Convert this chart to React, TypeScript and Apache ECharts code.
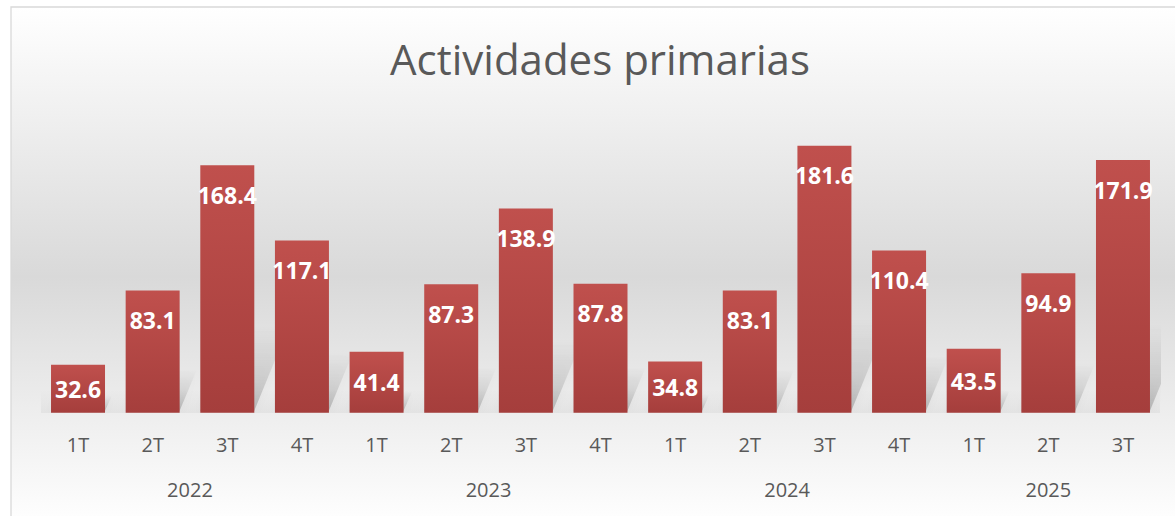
import React, { useEffect, useRef } from "react";
import * as echarts from "echarts";

const TITLE = "Actividades primarias";
const QUARTERS = ["1T", "2T", "3T", "4T", "1T", "2T", "3T", "4T", "1T", "2T", "3T", "4T", "1T", "2T", "3T"];
const VALUES = [32.6, 83.1, 168.4, 117.1, 41.4, 87.3, 138.9, 87.8, 34.8, 83.1, 181.6, 110.4, 43.5, 94.9, 171.9];
const YEARS = ["2022", "2023", "2024", "2025"];
const QUARTERS_PER_YEAR = [4, 4, 4, 3];

export default function App() {
  const ref = useRef<HTMLDivElement>(null);

  useEffect(() => {
    if (!ref.current) return;
    const chart = echarts.init(ref.current, null, { renderer: "svg" });

    // year label positions = centre of each group of quarters
    const yearCenters: number[] = [];
    let start = 0;
    QUARTERS_PER_YEAR.forEach((n) => {
      yearCenters.push(start + (n - 1) / 2);
      start += n;
    });

    const barData = VALUES.map((v) => ({
      value: v,
      label: v < 45 ? { position: "inside" as const } : undefined,
    }));

    chart.setOption({
      animation: false,
      graphic: [
        {
          type: "rect",
          z: -10,
          silent: true,
          shape: { x: 11, y: 7, width: 1300, height: 519 },
          style: {
            fill: {
              type: "linear",
              x: 0,
              y: 0,
              x2: 0,
              y2: 1,
              colorStops: [
                { offset: 0, color: "#ffffff" },
                { offset: 0.52, color: "#d9d9d9" },
                { offset: 1, color: "#ffffff" },
              ],
            },
            stroke: "#d9d9d9",
            lineWidth: 1.3,
          },
        },
        {
          type: "rect",
          z: -9,
          silent: true,
          shape: { x: 41, y: 390, width: 1119, height: 23 },
          style: {
            fill: {
              type: "linear",
              x: 0,
              y: 0,
              x2: 0,
              y2: 1,
              colorStops: [
                { offset: 0, color: "rgba(0,0,0,0)" },
                { offset: 1, color: "rgba(0,0,0,0.045)" },
              ],
            },
          },
        },
        {
          type: "text",
          x: 600,
          y: 58,
          z: 10,
          style: {
            text: TITLE,
            fill: "#595959",
            font: '42px "Open Sans"',
            textAlign: "center",
            textVerticalAlign: "middle",
          },
        },
      ],
      grid: { left: 40.7, right: 14.7, top: 118.7, bottom: 103.3, containLabel: false },
      xAxis: [
        {
          type: "category",
          data: QUARTERS,
          axisLine: { show: false },
          axisTick: { show: false },
          axisLabel: {
            color: "#595959",
            fontFamily: "Open Sans",
            fontSize: 20,
            lineHeight: 20,
            margin: 22,
            interval: 0,
          },
        },
        {
          type: "value",
          min: -0.5,
          max: QUARTERS.length - 0.5,
          position: "bottom",
          axisLine: { show: false },
          axisTick: { show: false },
          splitLine: { show: false },
          axisLabel: {
            customValues: yearCenters,
            formatter: (val: number) => {
              const i = yearCenters.findIndex((c) => Math.abs(c - val) < 1e-6);
              return i >= 0 ? YEARS[i] : "";
            },
            color: "#595959",
            fontFamily: "Open Sans",
            fontSize: 20,
            lineHeight: 20,
            margin: 67,
            showMinLabel: true,
            showMaxLabel: true,
          },
        },
      ],
      yAxis: {
        type: "value",
        min: 0,
        max: 200,
        show: false,
      },
      series: [
        {
          type: "custom",
          xAxisIndex: 0,
          z: 1,
          clip: true,
          silent: true,
          data: VALUES.map((v, i) => [i, v]),
          encode: { x: 0, y: 1 },
          renderItem: (params: any, api: any) => {
            const idx = api.value(0);
            const v = api.value(1);
            const base = api.coord([idx, 0]);
            const top = api.coord([idx, v]);
            const bw = api.size([1, 0])[0] * 0.723;
            const x0 = base[0] - bw / 2;
            const x1 = base[0] + bw / 2;
            const yb = base[1];
            const h = (yb - top[1]) * 0.35;
            const dx = h * 0.4;
            return {
              type: "polygon",
              shape: {
                points: [
                  [x0, yb - 2],
                  [x1, yb - 2],
                  [x1 + dx, yb - h],
                  [x0 + dx, yb - h],
                ],
              },
              style: {
                fill: {
                  type: "linear",
                  x: 0,
                  y: 0,
                  x2: 0,
                  y2: 1,
                  colorStops: [
                    { offset: 0, color: "rgba(0,0,0,0)" },
                    { offset: 0.55, color: "rgba(0,0,0,0.09)" },
                    { offset: 1, color: "rgba(0,0,0,0.2)" },
                  ],
                },
                shadowBlur: 8,
                shadowColor: "rgba(0,0,0,0.18)",
              },
            };
          },
        },
        {
          type: "bar",
          xAxisIndex: 0,
          z: 3,
          data: barData,
          barWidth: 54,
          itemStyle: {
            color: {
              type: "linear",
              x: 0,
              y: 0,
              x2: 0,
              y2: 1,
              colorStops: [
                { offset: 0, color: "#c0504d" },
                { offset: 1, color: "#a53e3c" },
              ],
            },
          },
          label: {
            show: true,
            position: "insideTop",
            distance: 18,
            color: "#ffffff",
            fontFamily: "Open Sans",
            fontWeight: "bold",
            fontSize: 23,
            formatter: (p: any) => p.value.toFixed(1),
          },
        },
      ],
    });

    return () => chart.dispose();
  }, []);

  return (
    <div
      ref={ref}
      style={{ position: "fixed", left: 0, top: 0, width: 1175, height: 516, background: "#ffffff" }}
    />
  );
}
